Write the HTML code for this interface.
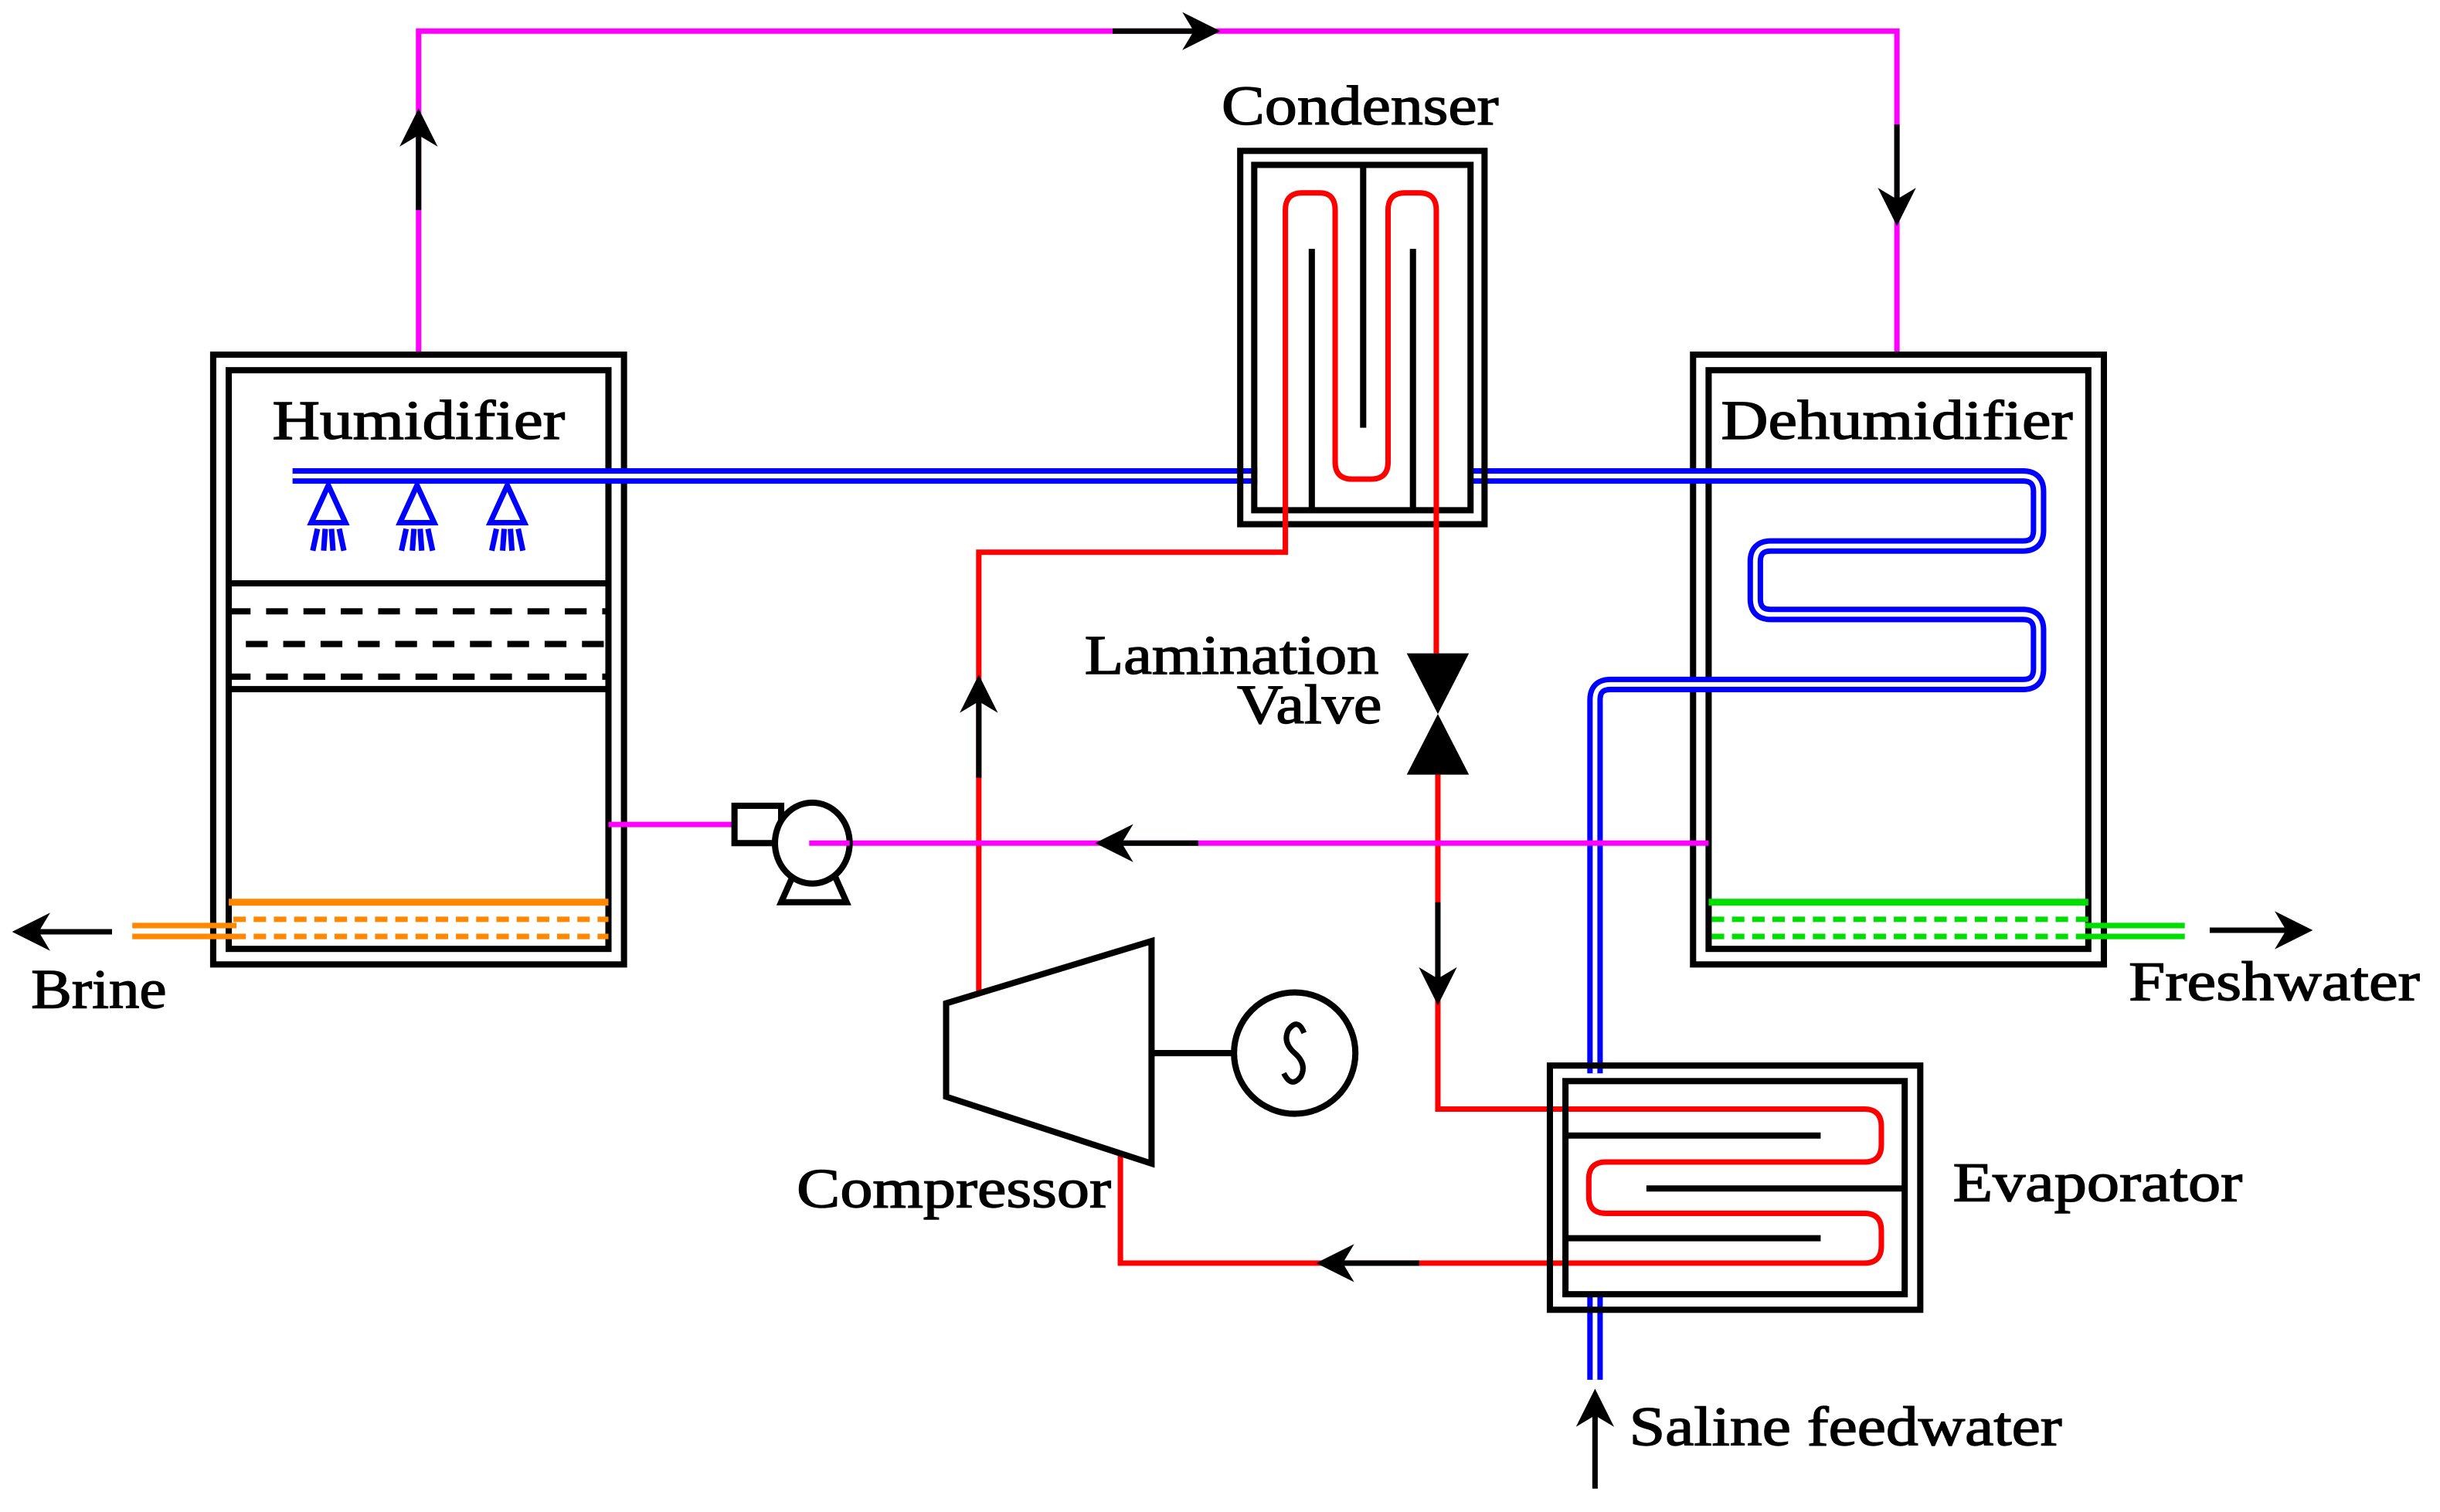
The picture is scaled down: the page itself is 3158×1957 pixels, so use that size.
<!DOCTYPE html>
<html><head><meta charset="utf-8"><style>html,body{margin:0;padding:0;background:#fff}svg{display:block}</style></head><body>
<svg width="3158" height="1957" viewBox="0 0 1568 972" preserveAspectRatio="none" xmlns="http://www.w3.org/2000/svg" font-family="Liberation Serif, serif" font-size="36">
<defs>
<marker id="a" viewBox="0 0 10 10" refX="5" refY="5" markerWidth="7" markerHeight="7" orient="auto"><path d="M0,0 L10,5 L0,10 L3,5 Z" fill="#000"/></marker>
</defs>
<g stroke="#000" stroke-width="0.7" lengthAdjust="spacingAndGlyphs">
<text x="175" y="282" textLength="188" lengthAdjust="spacingAndGlyphs">Humidifier</text>
<text x="1106" y="282" textLength="226" lengthAdjust="spacingAndGlyphs">Dehumidifier</text>
<text x="785" y="80" textLength="178" lengthAdjust="spacingAndGlyphs">Condenser</text>
<text x="697" y="433" textLength="189" lengthAdjust="spacingAndGlyphs">Lamination</text>
<text x="795" y="465" textLength="93" lengthAdjust="spacingAndGlyphs">Valve</text>
<text x="20" y="648" textLength="87" lengthAdjust="spacingAndGlyphs">Brine</text>
<text x="1368" y="643" textLength="187" lengthAdjust="spacingAndGlyphs">Freshwater</text>
<text x="512" y="776" textLength="202" lengthAdjust="spacingAndGlyphs">Compressor</text>
<text x="1255" y="772" textLength="186" lengthAdjust="spacingAndGlyphs">Evaporator</text>
<text x="1047" y="929" textLength="278" lengthAdjust="spacingAndGlyphs">Saline feedwater</text>
</g>
<!-- top magenta loop -->
<polyline points="269,228 269,20 1219,20 1219,228" fill="none" stroke="#f0f" stroke-width="3.5"/>
<line x1="269" y1="135" x2="269" y2="82" stroke="#000" stroke-width="3.5" marker-end="url(#a)"/>
<line x1="715" y1="20" x2="772" y2="20" stroke="#000" stroke-width="3.5" marker-end="url(#a)"/>
<line x1="1219" y1="80" x2="1219" y2="133" stroke="#000" stroke-width="3.5" marker-end="url(#a)"/>
<!-- humidifier -->
<rect x="137" y="228" width="264" height="392" fill="none" stroke="#000" stroke-width="4"/>
<rect x="147" y="238" width="244" height="372" fill="none" stroke="#000" stroke-width="4"/>
<line x1="147" y1="375" x2="391" y2="375" stroke="#000" stroke-width="4"/>
<line x1="147" y1="443" x2="391" y2="443" stroke="#000" stroke-width="4"/>
<line x1="147" y1="393" x2="391" y2="393" stroke="#000" stroke-width="4" stroke-dasharray="14,10"/>
<line x1="158" y1="414" x2="391" y2="414" stroke="#000" stroke-width="4" stroke-dasharray="14,10"/>
<line x1="147" y1="435" x2="391" y2="435" stroke="#000" stroke-width="4" stroke-dasharray="14,10"/>
<!-- orange -->
<line x1="147" y1="580" x2="391" y2="580" stroke="#f80" stroke-width="4.5"/>
<line x1="150" y1="591" x2="391" y2="591" stroke="#f80" stroke-width="3.5" stroke-dasharray="8,5"/>
<line x1="150" y1="602" x2="391" y2="602" stroke="#f80" stroke-width="3.5" stroke-dasharray="8,5"/>
<line x1="85" y1="595" x2="152" y2="595" stroke="#f80" stroke-width="3.5"/>
<line x1="85" y1="602" x2="152" y2="602" stroke="#f80" stroke-width="3.5"/>
<line x1="72" y1="599" x2="20" y2="599" stroke="#000" stroke-width="3.5" marker-end="url(#a)"/>
<!-- dehumidifier -->
<rect x="1088" y="228" width="264" height="392" fill="none" stroke="#000" stroke-width="4"/>
<rect x="1098" y="238" width="244" height="372" fill="none" stroke="#000" stroke-width="4"/>
<line x1="1098" y1="580" x2="1342" y2="580" stroke="#0d0" stroke-width="4.5"/>
<line x1="1100" y1="591" x2="1342" y2="591" stroke="#0d0" stroke-width="3.5" stroke-dasharray="8,5"/>
<line x1="1100" y1="602" x2="1342" y2="602" stroke="#0d0" stroke-width="3.5" stroke-dasharray="8,5"/>
<line x1="1340" y1="595" x2="1404" y2="595" stroke="#0d0" stroke-width="3.5"/>
<line x1="1340" y1="602" x2="1404" y2="602" stroke="#0d0" stroke-width="3.5"/>
<line x1="1420" y1="598" x2="1474" y2="598" stroke="#000" stroke-width="3.5" marker-end="url(#a)"/>
<!-- blue pipe -->
<g fill="none" stroke-linejoin="round">
<path d="M188,306 H808 M945,306 H1300 Q1310,306 1310,316 V341 Q1310,351 1300,351 H1138 Q1128,351 1128,361 V385 Q1128,395 1138,395 H1300 Q1310,395 1310,405 V430 Q1310,440 1300,440 H1035 Q1025,440 1025,450 V690 M1025,832 V887" stroke="#00f" stroke-width="10"/>
<path d="M188,306 H808 M945,306 H1300 Q1310,306 1310,316 V341 Q1310,351 1300,351 H1138 Q1128,351 1128,361 V385 Q1128,395 1138,395 H1300 Q1310,395 1310,405 V430 Q1310,440 1300,440 H1035 Q1025,440 1025,450 V690 M1025,832 V887" stroke="#fff" stroke-width="3"/>
</g>
<!-- nozzles -->
<g fill="none" stroke="#00f" stroke-width="3.5">
<g id="nz"><path d="M211,312 L200,336 H222 Z"/><path d="M204,340 L201,354 M209,340 L208,354 M213,340 L214,354 M218,340 L221,354"/></g>
<use href="#nz" x="57"/><use href="#nz" x="115"/>
</g>
<!-- condenser -->
<rect x="797" y="97" width="157" height="240" fill="none" stroke="#000" stroke-width="4"/>
<rect x="806" y="106" width="139" height="222" fill="none" stroke="#000" stroke-width="4"/>
<line x1="843" y1="160" x2="843" y2="328" stroke="#000" stroke-width="4"/>
<line x1="876" y1="106" x2="876" y2="275" stroke="#000" stroke-width="4"/>
<line x1="908" y1="160" x2="908" y2="328" stroke="#000" stroke-width="4"/>
<!-- red refrigerant -->
<g fill="none" stroke="#f00" stroke-width="3.5">
<path d="M629,640 V355 H826 V135 Q826,124 837,124 H848 Q858,124 858,135 V297 Q858,308 869,308 H881 Q892,308 892,297 V135 Q892,124 903,124 H912 Q923,124 923,135 V420"/>
<path d="M924,498 V713 H1198 Q1209,713 1209,724 V736 Q1209,747 1198,747 H1032 Q1021,747 1021,758 V769 Q1021,780 1032,780 H1198 Q1209,780 1209,791 V801 Q1209,812 1198,812 H720 V740"/>
</g>
<line x1="629" y1="500" x2="629" y2="446" stroke="#000" stroke-width="3.5" marker-end="url(#a)"/>
<line x1="924" y1="580" x2="924" y2="634" stroke="#000" stroke-width="3.5" marker-end="url(#a)"/>
<line x1="912" y1="812" x2="858" y2="812" stroke="#000" stroke-width="3.5" marker-end="url(#a)"/>
<!-- valve -->
<path d="M904,420 H944 L904,498 H944 Z" fill="#000"/>
<!-- pump & magenta -->
<line x1="391" y1="530" x2="472" y2="530" stroke="#f0f" stroke-width="3.5"/>
<line x1="520" y1="542" x2="1098" y2="542" stroke="#f0f" stroke-width="3.5"/>
<line x1="770" y1="542" x2="716" y2="542" stroke="#000" stroke-width="3.5" marker-end="url(#a)"/>
<g fill="none" stroke="#000" stroke-width="4">
<rect x="472" y="518" width="30" height="24" fill="#fff"/>
<path d="M510,562 L502,580 H544 L536,562"/>
<ellipse cx="522" cy="542" rx="24" ry="26" fill="#fff"/>
</g>
<line x1="520" y1="542" x2="546" y2="542" stroke="#f0f" stroke-width="3.5"/>
<!-- evaporator -->
<rect x="996" y="685" width="238" height="157" fill="none" stroke="#000" stroke-width="4"/>
<rect x="1006" y="695" width="218" height="137" fill="none" stroke="#000" stroke-width="4"/>
<line x1="1006" y1="730" x2="1170" y2="730" stroke="#000" stroke-width="4"/>
<line x1="1058" y1="764" x2="1224" y2="764" stroke="#000" stroke-width="4"/>
<line x1="1006" y1="796" x2="1170" y2="796" stroke="#000" stroke-width="4"/>
<!-- compressor -->
<path d="M608,645 L740,605 V748 L608,705 Z" fill="none" stroke="#000" stroke-width="4"/>
<line x1="740" y1="677" x2="793" y2="677" stroke="#000" stroke-width="4"/>
<circle cx="832" cy="677" r="39" fill="none" stroke="#000" stroke-width="4"/>
<path d="M838,664 Q834,654 828,662 Q824,670 832,677 Q840,684 836,692 Q830,700 825,690" fill="none" stroke="#000" stroke-width="3.5"/>
<line x1="1025" y1="957" x2="1025" y2="905" stroke="#000" stroke-width="3.5" marker-end="url(#a)"/>
</svg>
</body></html>
